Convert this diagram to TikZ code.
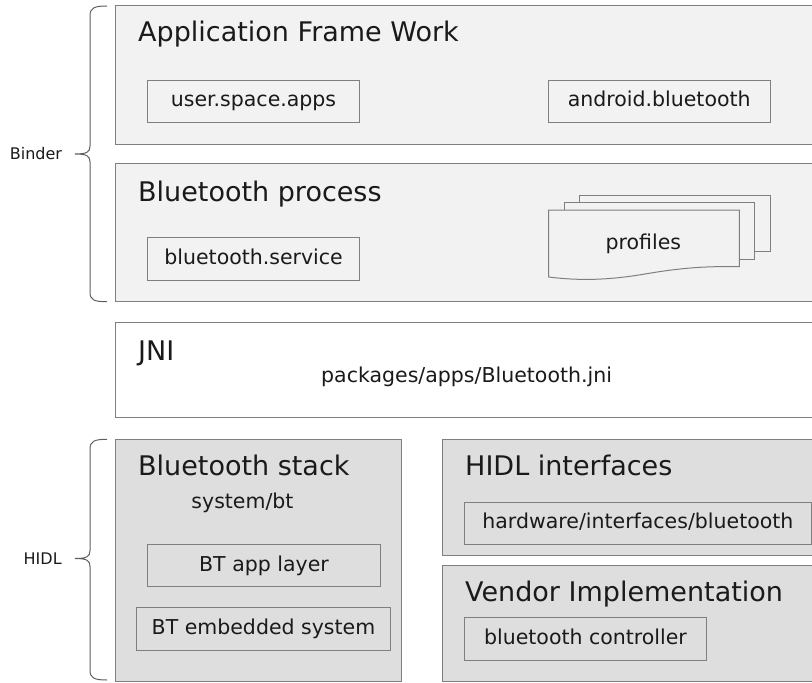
\documentclass[tikz,border=0pt]{standalone}
\usepackage{fontspec}
\setmainfont{DejaVu Sans}
\definecolor{lightfill}{HTML}{F2F2F2}
\definecolor{darkfill}{HTML}{DEDEDE}
\definecolor{edge}{HTML}{7F7F7F}
\definecolor{txt}{HTML}{1A1A1A}
\begin{document}
\begin{tikzpicture}[x=1pt,y=-1pt,
  box/.style={draw=edge,line width=1pt},
  inbox/.style={draw=edge,line width=1pt,inner sep=0pt,text=txt,text height=11.2pt,text depth=0pt,font=\fontsize{20.5}{24}\selectfont},
  title/.style={anchor=base west,inner sep=0pt,text=txt,font=\fontsize{27}{30}\selectfont},
  plain/.style={inner sep=0pt,text=txt,font=\fontsize{20.5}{24}\selectfont},
  side/.style={inner sep=0pt,text=txt,font=\fontsize{16}{19}\selectfont},
  brc/.style={draw=edge!75!black,line width=1pt}]
\useasboundingbox (0,0) rectangle (812,683);
\clip (0,0) rectangle (812,683);
% big boxes
\path[box,fill=lightfill] (115.3,5.7) rectangle (830,144);
\path[box,fill=lightfill] (115.3,163.7) rectangle (830,301.7);
\path[box,fill=white] (115.3,322.3) rectangle (830,417.7);
\path[box,fill=darkfill] (115.3,439) rectangle (401.7,681);
\path[box,fill=darkfill] (442.7,439) rectangle (830,555);
\path[box,fill=darkfill] (442.7,565) rectangle (830,681);
% titles
\node[title] (tapp) at (138,41.7) {Application Frame Work};
\node[title] (tproc) at (138,201.7) {Bluetooth process};
\node[title] (tjni) at (138,360) {JNI};
\node[title] (tstack) at (138,475.7) {Bluetooth stack};
\node[title] (thidl) at (465,475.7) {HIDL interfaces};
\node[title] (tvend) at (465,601.7) {Vendor Implementation};
\node[plain,anchor=base west] (jnipath) at (321,382.3) {packages/apps/Bluetooth.jni};
\node[plain,anchor=base] (sysbt) at (242.5,508.3) {system/bt};
% inner boxes
\node[inbox,minimum width=211.6pt,minimum height=42.3pt] (usa) at (253.5,101.2) {user.space.apps};
\node[inbox,minimum width=221.7pt,minimum height=42.3pt] (ab) at (659.2,101.2) {android.bluetooth};
\node[inbox,minimum width=211.3pt,minimum height=42.3pt] (bs) at (253.6,258.9) {bluetooth.service};
\node[inbox,minimum width=232.6pt,minimum height=42.4pt] (btapp) at (264,565.5) {BT app layer};
\node[inbox,minimum width=253.6pt,minimum height=42.3pt] (btemb) at (263.5,628.9) {BT embedded system};
\node[inbox,minimum width=347.2pt,minimum height=42.3pt] (hw) at (637.9,523.2) {hardware/interfaces/bluetooth};
\node[inbox,minimum width=242.4pt,minimum height=42.3pt] (ctrl) at (585.5,638.9) {bluetooth controller};
% profiles stack
\path[box,fill=lightfill] (579,195.3) rectangle (770,251.7);
\path[box,fill=lightfill] (564.3,202.3) rectangle (754,259);
\path[box,fill=lightfill] (548.7,210) -- (739.3,210) -- (739.3,266.7)
  .. controls (705,266) and (680,268) .. (645,274)
  .. controls (610,280) and (580,281) .. (548.7,277) -- cycle;
\node[plain,text height=11.2pt,text depth=0pt] (prof) at (643.3,244) {profiles};
% braces
\coordinate (b1top) at (107,6);
\coordinate (b1tip) at (75,154);
\coordinate (b1bot) at (107,301.7);
\coordinate (b2top) at (107,439.3);
\coordinate (b2tip) at (75,558.5);
\coordinate (b2bot) at (107,680);
\draw[brc] (b1top) .. controls (94,6) and (90,8) .. (90,16) -- (90,146)
  .. controls (90,152) and (87,154) .. (b1tip)
  .. controls (87,154) and (90,156) .. (90,162) -- (90,292)
  .. controls (90,300) and (94,301.7) .. (b1bot);
\draw[brc] (b2top) .. controls (94,439.3) and (90,441.3) .. (90,449.3) -- (90,550.5)
  .. controls (90,556.5) and (87,558.5) .. (b2tip)
  .. controls (87,558.5) and (90,560.5) .. (90,566.5) -- (90,670)
  .. controls (90,678) and (94,680) .. (b2bot);
\node[side] (binder) at (36,154) {Binder};
\node[side] (hidl) at (42.7,558.5) {HIDL};
\end{tikzpicture}
\end{document}
